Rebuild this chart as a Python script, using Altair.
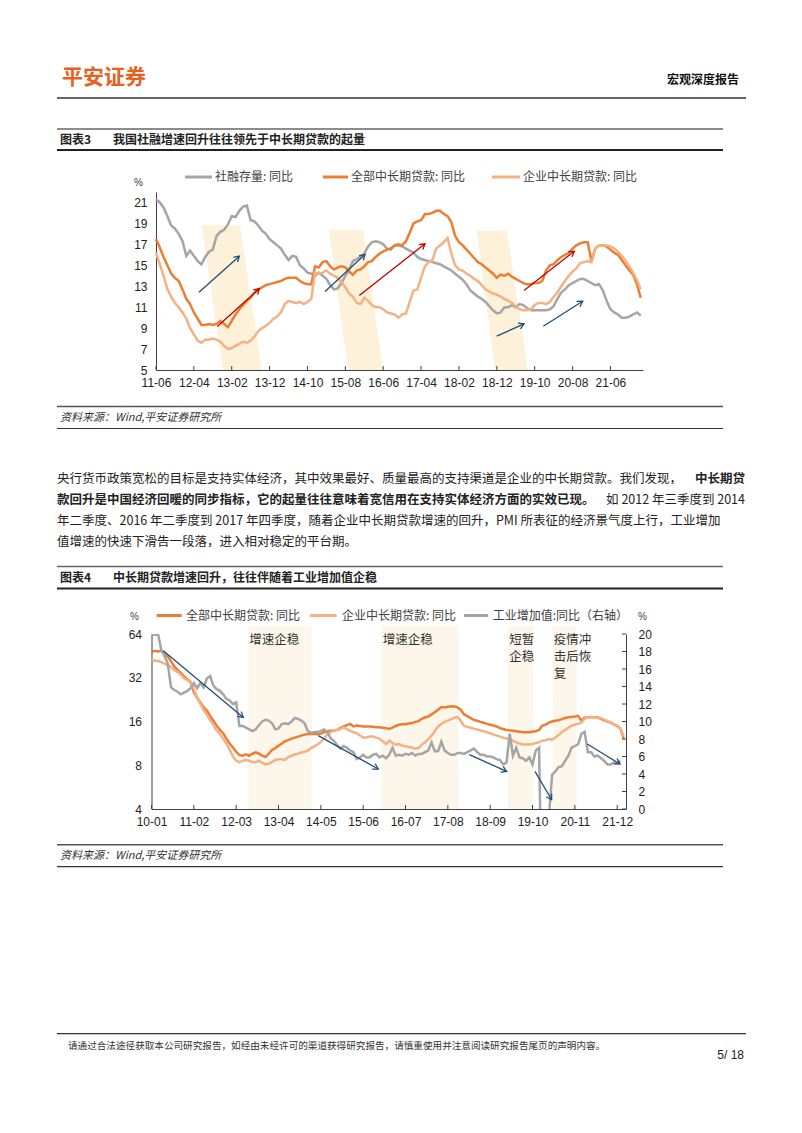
import json
import math
import altair as alt
import pandas as pd

CJK = "Noto Sans CJK SC"
LAT = "Liberation Sans"
ORANGE = "#ED7D31"
LIGHT = "#F4B183"
GREY = "#A5A5A5"
NAVY = "#1F4E79"
RED = "#C00000"
BAND3 = "#FDF1DA"
BAND4 = "#FDF6EA"
LOGO = "#E7601E"
AXIS = "#404040"
TXT = "#222222"

# ---------------- Chart 3 data (monthly from 2011-06) ----------------
c3_labels = ["11-06", "12-04", "13-02", "13-12", "14-10", "15-08", "16-06",
             "17-04", "18-02", "18-12", "19-10", "20-08", "21-06"]
c3_grey = [21.3, 21.0, 20.5, 19.7, 18.8, 18.5, 18.0, 17.3, 15.9, 16.4,
           15.9, 15.4, 15.1, 15.8, 16.3, 16.5, 17.8, 18.2, 18.4, 18.9,
           19.7, 19.6, 20.2, 20.6, 20.7, 19.3, 19.2, 18.8, 18.3, 18.0,
           17.5, 17.2, 16.9, 16.6, 16.0, 15.5, 15.9, 15.8, 15.0, 14.7,
           14.3, 14.2, 14.0, 14.3, 14.0, 13.7, 13.1, 12.7, 12.8, 13.3,
           14.0, 14.6, 15.4, 15.6, 15.8, 16.1, 16.8, 17.2, 17.3, 17.2,
           17.0, 16.6, 16.5, 16.9, 16.9, 16.8, 16.6, 16.4, 16.2, 15.8,
           15.6, 15.5, 15.4, 15.3, 15.2, 15.1, 14.9, 14.7, 14.5, 14.2,
           13.9, 13.6, 13.2, 12.6, 12.3, 12.0, 11.8, 11.5, 11.1, 10.7,
           10.4, 10.5, 11.0, 11.0, 11.2, 11.0, 11.3, 11.2, 10.9, 10.7,
           10.7, 10.7, 10.7, 10.7, 10.8, 11.1, 11.8, 12.4, 12.7, 13.1,
           13.3, 13.5, 13.7, 13.7, 13.5, 13.3, 13.1, 13.2, 12.6, 11.6,
           10.8, 10.5, 10.3, 10.0, 10.0, 10.1, 10.3, 10.5, 10.2]
c3_orange = [17.5, 16.7, 15.8, 15.0, 14.2, 13.8, 13.5, 12.7, 11.8, 11.3,
             10.5, 9.9, 9.3, 9.3, 9.4, 9.3, 9.4, 9.7, 9.4, 9.1,
             9.7, 10.3, 10.8, 11.2, 11.6, 11.9, 12.4, 12.7, 12.9, 13.1,
             13.2, 13.3, 13.4, 13.5, 13.7, 13.8, 13.8, 13.8, 13.5, 13.3,
             13.2, 13.2, 14.9, 14.8, 15.3, 15.4, 14.9, 14.6, 14.8, 14.9,
             14.8, 14.4, 14.1, 14.5, 14.6, 14.9, 15.3, 15.4, 15.8, 16.1,
             16.3, 16.5, 16.6, 16.9, 17.0, 16.9, 17.3, 18.1, 19.0, 19.2,
             19.3, 19.9, 19.9, 20.0, 20.2, 20.2, 19.9, 19.7, 19.1, 17.8,
             17.2, 16.9, 16.5, 16.1, 15.7, 15.3, 15.1, 14.8, 14.5, 14.2,
             13.8, 14.1, 14.0, 14.2, 13.9, 13.7, 13.5, 13.3, 13.2, 13.2,
             13.3, 13.3, 13.5, 14.5, 15.0, 15.1, 15.5, 15.8, 16.0, 16.2,
             16.6, 16.9, 17.1, 17.2, 17.2, 15.4, 16.6, 16.9, 16.9, 16.8,
             16.5, 16.2, 16.0, 15.5, 15.0, 14.5, 14.1, 13.2, 11.9]
c3_light = [16.2, 15.1, 14.0, 12.7, 12.0, 11.4, 11.0, 10.5, 9.9, 9.0,
            8.4, 7.8, 7.6, 7.9, 7.9, 8.0, 7.9, 7.7, 7.3, 7.0,
            7.1, 7.3, 7.5, 7.7, 7.6, 7.8, 8.2, 8.7, 9.0, 9.2,
            9.5, 9.9, 10.1, 10.5, 11.3, 11.6, 11.5, 11.4, 11.5, 11.3,
            11.5, 11.8, 14.3, 14.2, 14.3, 14.5, 14.2, 14.0, 13.8, 13.4,
            12.9, 12.3, 12.0, 11.4, 11.3, 11.9, 11.6, 11.2, 11.0, 11.0,
            10.8, 10.5, 10.4, 10.3, 10.0, 10.3, 10.4, 11.5, 12.6, 12.7,
            13.8, 14.9, 15.3, 15.5, 16.6, 16.9, 17.2, 17.6, 16.1, 15.0,
            14.6, 14.5, 14.2, 14.0, 13.7, 13.5, 13.1, 12.7, 12.5, 12.3,
            12.2, 12.0, 11.8, 11.6, 11.4, 11.1, 10.8, 10.7, 10.7, 10.8,
            11.2, 11.4, 11.4, 11.3, 11.5, 12.0, 12.4, 13.0, 13.5, 14.0,
            14.4, 14.7, 15.2, 15.3, 15.4, 15.3, 16.6, 16.9, 16.9, 16.9,
            16.8, 16.6, 16.3, 15.9, 15.4, 14.9, 14.3, 13.6, 12.7]
c3_band_top = [18.8, 18.4, 18.3]
c3_band_tl = [12.07, 45.68, 84.69]
c3_band_tr = [22.18, 54.66, 92.61]
c3_band_bl = [17.69, 50.70, 89.52]
c3_band_br = [27.91, 59.94, 98.23]
c3_ax1 = [11.35, 16.19, 44.63, 53.68, 89.97, 102.27, 97.18]
c3_ay1 = [12.43, 9.15, 12.50, 12.12, 8.23, 9.18, 12.59]
c3_ax2 = [22.00, 27.28, 55.19, 71.03, 97.18, 112.67, 110.46]
c3_ay2 = [15.87, 12.76, 16.03, 17.05, 9.41, 11.57, 16.35]
c3_akind = ["b", "r", "b", "r", "b", "b", "r"]

# ---------------- Chart 4 data (monthly from 2010-01) ----------------
c4_labels = ["10-01", "11-02", "12-03", "13-04", "14-05", "15-06",
             "16-07", "17-08", "18-09", "19-10", "20-11", "21-12"]
c4_orange = [47.8, 49.1, 48.6, 49.1, 47.0, 44.7, 41.5, 38.3, 36.2, 34.5,
             32.7, 31.3, 29.9, 25.4, 23.4, 21.6, 20.0, 19.0, 17.5, 16.2,
             15.0, 14.0, 13.3, 12.2, 11.3, 10.6, 9.9, 9.4, 9.3, 9.5,
             9.3, 9.6, 9.8, 9.6, 9.3, 9.1, 9.6, 10.2, 10.5, 10.9,
             11.3, 11.7, 11.9, 12.2, 12.4, 12.6, 12.8, 13.0, 13.1, 13.1,
             13.2, 13.1, 13.2, 13.5, 13.7, 13.8, 13.8, 14.0, 14.4, 14.8,
             15.1, 15.4, 14.8, 15.0, 14.9, 14.8, 14.8, 14.8, 14.7, 14.6,
             14.6, 14.5, 14.4, 14.2, 14.5, 14.9, 15.2, 15.3, 15.3, 15.5,
             15.6, 15.9, 16.1, 16.7, 17.1, 17.3, 17.9, 18.5, 19.3, 20.1,
             20.0, 20.2, 20.4, 20.3, 20.0, 19.2, 17.9, 17.4, 16.9, 16.4,
             16.2, 15.9, 15.7, 15.4, 15.2, 15.0, 14.8, 14.4, 14.2, 14.0,
             13.9, 13.8, 13.7, 13.6, 13.5, 13.5, 13.5, 13.6, 13.7, 14.0,
             15.0, 15.2, 15.7, 16.0, 16.2, 16.3, 16.6, 16.9, 17.1, 17.2,
             17.3, 17.5, 16.2, 17.0, 17.1, 17.2, 17.1, 17.1, 16.7, 16.3,
             16.0, 15.7, 15.3, 14.9, 14.3, 12.2]
c4_light = [42.9, 41.9, 41.9, 41.0, 40.0, 39.0, 37.9, 36.2, 35.0, 33.5,
            31.7, 30.9, 29.6, 26.8, 23.4, 21.1, 19.2, 17.8, 16.4, 15.2,
            13.8, 13.1, 12.2, 11.3, 10.2, 9.2, 8.6, 8.4, 8.6, 8.7,
            8.6, 8.4, 8.4, 8.6, 8.3, 8.1, 8.2, 8.4, 8.7, 8.8,
            8.8, 8.7, 9.1, 9.3, 9.5, 9.6, 9.8, 9.9, 10.1, 10.5,
            10.8, 11.1, 11.6, 12.2, 13.1, 13.5, 13.8, 14.0, 14.2, 14.6,
            14.2, 13.8, 13.5, 13.3, 12.8, 12.4, 12.4, 12.6, 12.6, 12.4,
            12.2, 11.7, 11.2, 11.8, 11.4, 11.1, 11.2, 10.9, 10.8, 10.7,
            10.6, 10.4, 10.5, 11.1, 11.5, 12.1, 12.8, 13.7, 14.8, 15.4,
            15.9, 16.2, 16.6, 17.0, 17.2, 16.1, 14.9, 14.7, 14.5, 14.3,
            14.1, 13.9, 13.7, 13.5, 13.3, 13.0, 12.8, 12.6, 12.4, 12.2,
            12.0, 11.8, 11.5, 11.3, 11.1, 11.1, 11.1, 11.2, 11.4, 11.5,
            11.8, 11.9, 12.1, 12.0, 12.4, 12.9, 13.5, 14.0, 14.5, 15.0,
            15.2, 15.4, 15.7, 16.7, 17.1, 17.1, 17.1, 17.0, 16.9, 16.5,
            16.1, 15.7, 15.3, 14.9, 14.3, 12.6]
c4_grey = [20.0, 19.9, 20.0, 18.2, 17.5, 16.6, 13.9, 13.6, 13.4, 13.1,
           13.3, 13.5, 13.8, 14.4, 13.8, 14.4, 13.9, 14.9, 15.2, 14.1,
           13.7, 13.5, 13.1, 12.6, 12.4, 12.0, 12.2, 9.5, 9.5, 9.3,
           9.1, 8.9, 9.1, 9.6, 10.0, 10.2, 10.1, 9.8, 9.1, 9.2,
           9.7, 9.8, 9.7, 10.0, 10.4, 10.3, 10.1, 9.8, 8.9, 8.7,
           8.8, 8.8, 8.9, 9.1, 8.8, 8.1, 7.8, 7.3, 6.9, 7.2,
           7.0, 6.7, 6.5, 5.7, 5.9, 6.2, 5.9, 5.9, 6.2, 6.3,
           5.9, 6.1, 5.8, 6.2, 7.0, 6.1, 6.2, 6.1, 6.3, 6.2,
           6.4, 6.1, 6.3, 6.3, 6.5, 6.7, 7.6, 6.6, 6.6, 7.7,
           6.7, 6.4, 6.2, 6.2, 6.4, 6.4, 6.3, 6.5, 6.7, 6.9,
           6.5, 6.2, 6.2, 6.0, 6.0, 5.9, 5.7, 5.6, 5.1, 5.3,
           8.6, 6.1, 7.0, 5.9, 5.8, 5.5, 5.9, 5.1, 6.7, 7.0,
           -13.5, -13.5, -1.1, 3.9, 4.3, 4.8, 4.9, 5.5, 6.1, 7.0,
           7.2, 7.4, 8.6, 8.8, 6.5, 6.5, 6.0, 6.1, 5.8, 5.5,
           5.1, 5.1, 5.3, 5.2, 5.5]
c4_band_start = [29.72, 70.68, 109.55, 123.18]
c4_band_end = [49.19, 94.20, 117.22, 130.55]
c4_band_text = ["增速企稳", "增速企稳", "短暂\n企稳", "疫情冲\n击后恢\n复"]
c4_ax1 = [3.62, 51.21, 97.57, 117.75, 133.80]
c4_ay1 = [18.09, 8.38, 6.21, 4.30, 7.43]
c4_ax2 = [28.19, 69.63, 109.06, 122.87, 143.84]
c4_ay2 = [10.47, 4.57, 4.30, 1.06, 5.14]
c4_akind = ["b", "b", "b", "b", "b"]

# ---------------- texts ----------------
t_logo = "平安证券"
t_header = "宏观深度报告"
t_fig3 = "图表3"
t_title3 = "我国社融增速回升往往领先于中长期贷款的起量"
t_leg3 = ["社融存量: 同比", "全部中长期贷款: 同比", "企业中长期贷款: 同比"]
t_source = "资料来源：Wind,平安证券研究所"
p1a = "央行货币政策宽松的目标是支持实体经济，其中效果最好、质量最高的支持渠道是企业的中长期贷款。我们发现，"
p1b = "中长期贷"
p2a = "款回升是中国经济回暖的同步指标，它的起量往往意味着宽信用在支持实体经济方面的实效已现。"
p2b = "如 2012 年三季度到 2014"
p3 = "年二季度、2016 年二季度到 2017 年四季度，随着企业中长期贷款增速的回升，PMI 所表征的经济景气度上行，工业增加"
p4 = "值增速的快速下滑告一段落，进入相对稳定的平台期。"
t_fig4 = "图表4"
t_title4 = "中长期贷款增速回升，往往伴随着工业增加值企稳"
t_leg4 = ["全部中长期贷款: 同比", "企业中长期贷款: 同比", "工业增加值:同比（右轴）"]
t_footer = "请通过合法途径获取本公司研究报告，如经由未经许可的渠道获得研究报告，请慎重使用并注意阅读研究报告尾页的声明内容。"
t_page = "5/ 18"

ONE = pd.DataFrame({"k": [0]})
PAGE_W = 786


def text(s, x, y, size=12, bold=False, color=TXT, align="left", font=CJK, italic=False):
    kw = dict(text=s, fontSize=size, font=font, color=color, align=align, baseline="middle")
    if bold:
        kw["fontWeight"] = "bold"
    if italic:
        kw["fontStyle"] = "italic"
    return alt.Chart(ONE).mark_text(**kw).encode(x=alt.value(x), y=alt.value(y))


def hline(x1, x2, y, color="#333333", w=1.0):
    return alt.Chart(ONE).mark_rule(color=color, strokeWidth=w).encode(
        x=alt.value(x1), x2=alt.value(x2), y=alt.value(y))


def arrow_frames(x1, y1, x2, y2, kinds, pxm, pxv):
    lines = pd.DataFrame({"x1": x1, "y1": y1, "x2": x2, "y2": y2, "k": kinds})
    angs = []
    for a, b, c, d in zip(x1, y1, x2, y2):
        dx = (c - a) * pxm
        dy = -(d - b) * pxv
        angs.append(math.degrees(math.atan2(dx, -dy)) % 360)
    heads = pd.DataFrame({"x": x2, "y": y2, "ang": angs, "k": kinds})
    return lines, heads


HEAD = "M-0.6,1L0,0L0.6,1"
KCOL = alt.Scale(domain=["b", "r"], range=[NAVY, RED])

# ---------------- Row A: header + chart-3 title + legend ----------------
rowA = alt.layer(
    text(t_logo, 54, 70, 21, bold=True, color=LOGO),
    text(t_header, 731, 72, 12, bold=True, color="#111111", align="right"),
    hline(49, 738, 90, "#333333", 1.5),
    hline(49, 715, 121, "#666666", 1.5),
    hline(49, 715, 142, "#222222", 2),
    text(t_fig3, 52, 131.5, 12, bold=True),
    text(t_title3, 105, 131.5, 12, bold=True),
    hline(177, 204, 169, GREY, 3),
    text(t_leg3[0], 207, 169, 12, color="#404040"),
    hline(315, 340, 169, ORANGE, 3),
    text(t_leg3[1], 343, 169, 12, color="#404040"),
    hline(484, 512, 169, LIGHT, 3),
    text(t_leg3[2], 515, 169, 12, color="#404040"),
    text("%", 126, 175, 10, color="#404040", font=LAT),
).properties(width=PAGE_W, height=183.5)

# ---------------- Row B: chart 3 (plot x 148..635 inside a full-width view) ----------------
L3, W3, H3 = 148, 487, 178
X3 = alt.Scale(domain=[0, 128.6], nice=False, zero=False, range=[L3, L3 + W3])
Y3 = alt.Scale(domain=[5, 22], nice=False, zero=False)
xaxis3 = alt.Axis(values=[i * 10 for i in range(len(c3_labels))],
                  labelExpr=json.dumps(c3_labels) + "[round(datum.value / 10)]",
                  ticks=False, labelPadding=7, domainColor=AXIS, domainWidth=1,
                  labelFont=LAT, labelFontSize=12, labelColor=TXT,
                  labelFlush=False, labelOverlap=False, grid=False, title=None)
yaxis3 = alt.Axis(values=list(range(5, 22, 2)), ticks=False, labelPadding=9,
                  domainColor=AXIS, domainWidth=1, labelFont=LAT, labelFontSize=12,
                  labelColor=TXT, grid=False, title=None, orient="left", offset=-L3)


def x3(f):
    return alt.X(f, scale=X3, axis=xaxis3)


def y3(f):
    return alt.Y(f, scale=Y3, axis=yaxis3)


df3 = pd.DataFrame({"m": list(range(len(c3_grey))), "grey": c3_grey,
                    "orange": c3_orange, "light": c3_light})
b_rows = []
for i in range(len(c3_band_top)):
    b_rows.append({"b": i, "v": c3_band_top[i], "xl": c3_band_tl[i], "xr": c3_band_tr[i]})
    b_rows.append({"b": i, "v": 5, "xl": c3_band_bl[i], "xr": c3_band_br[i]})
dfb3 = pd.DataFrame(b_rows)

bands3 = alt.Chart(dfb3).mark_area(orient="horizontal", color=BAND3).encode(
    y=y3("v:Q"),
    x=alt.X("xl:Q", scale=X3, axis=xaxis3, stack=None),
    x2="xr:Q",
    detail="b:N")
base3 = alt.Chart(df3)
grey3 = base3.mark_line(color=GREY, strokeWidth=2.5).encode(x=x3("m:Q"), y=y3("grey:Q"))
orange3 = base3.mark_line(color=ORANGE, strokeWidth=2.5).encode(x=x3("m:Q"), y=y3("orange:Q"))
light3 = base3.mark_line(color=LIGHT, strokeWidth=2.5).encode(x=x3("m:Q"), y=y3("light:Q"))

al3, ah3 = arrow_frames(c3_ax1, c3_ay1, c3_ax2, c3_ay2, c3_akind, W3 / 128.6, H3 / 17.0)
arr3 = alt.Chart(al3).mark_rule(strokeWidth=1.3).encode(
    x=x3("x1:Q"), x2="x2:Q", y=y3("y1:Q"), y2="y2:Q",
    color=alt.Color("k:N", scale=KCOL, legend=None))
head3 = alt.Chart(ah3).mark_point(shape=HEAD, filled=False, size=110, strokeWidth=1.3, opacity=1).encode(
    x=x3("x:Q"), y=y3("y:Q"),
    angle=alt.Angle("ang:Q", scale=None),
    color=alt.Color("k:N", scale=KCOL, legend=None))
ticks3 = alt.Chart(pd.DataFrame({"t": [i * 10 for i in range(len(c3_labels))]})).mark_rule(
    color=AXIS, strokeWidth=1).encode(
    x=x3("t:Q"), y=alt.value(H3 - 4), y2=alt.value(H3))

rowB = alt.layer(bands3, grey3, orange3, light3, arr3, head3, ticks3).properties(
    width=PAGE_W, height=H3)

# ---------------- Row C: source, paragraph, chart-4 title + legend ----------------
rowC = alt.layer(
    hline(49, 715, 36.5, "#555555", 1.5),
    text(t_source, 52, 47.5, 11, italic=True, color="#333333"),
    hline(49, 715, 58.5, "#333333", 1.2),
    text(p1a, 49, 108.5, 12.5),
    text(p1b, 737, 108.5, 12.5, bold=True, align="right"),
    text(p2a, 49, 129.5, 12.5, bold=True),
    text(p2b, 737, 129.5, 12.5, align="right"),
    text(p3, 49, 150.5, 12.5),
    text(p4, 49, 171.5, 12.5),
    hline(49, 715, 196.5, "#666666", 1.5),
    hline(49, 715, 218.5, "#222222", 2),
    text(t_fig4, 52, 207.5, 12, bold=True),
    text(t_title4, 105, 207.5, 12, bold=True),
    hline(148.7, 173.7, 245.5, ORANGE, 3),
    text(t_leg4[0], 178, 245.5, 12, color="#404040"),
    hline(302, 328.7, 245.5, LIGHT, 3),
    text(t_leg4[1], 334, 245.5, 12, color="#404040"),
    hline(456, 480.3, 245.5, GREY, 3),
    text(t_leg4[2], 484.7, 245.5, 12, color="#404040"),
    text("%", 122, 246.5, 10, color="#404040", font=LAT),
    text("%", 630, 246.5, 10, color="#404040", font=LAT),
).properties(width=PAGE_W, height=263.8)

# ---------------- Row D: chart 4 (plot x 143.5..618 inside a full-width view) ----------------
L4, W4, H4 = 143.5, 474.5, 175
R4 = L4 + W4
X4 = alt.Scale(domain=[0, 145.7], nice=False, zero=False, range=[L4, R4])
YL = alt.Scale(type="log", base=2, domain=[4, 64], nice=False)
YR = alt.Scale(domain=[0, 20], nice=False, zero=False)
xaxis4 = alt.Axis(values=[i * 13 for i in range(len(c4_labels))],
                  labelExpr=json.dumps(c4_labels) + "[round(datum.value / 13)]",
                  ticks=False, labelPadding=7, domainColor=AXIS, domainWidth=1,
                  labelFont=LAT, labelFontSize=12, labelColor=TXT,
                  labelFlush=False, labelOverlap=False, grid=False, title=None)
yaxisL = alt.Axis(values=[4, 8, 16, 32, 64], ticks=False, labelPadding=10,
                  domainColor=AXIS, domainWidth=1, labelFont=LAT, labelFontSize=12,
                  labelColor=TXT, grid=False, title=None, orient="left", offset=-L4)
yaxisR = alt.Axis(values=list(range(0, 21, 2)), ticks=False, labelPadding=12,
                  domainColor=AXIS, domainWidth=1, labelFont=LAT, labelFontSize=12,
                  labelColor=TXT, grid=False, title=None, orient="right",
                  offset=-(PAGE_W - R4))


def x4(f):
    return alt.X(f, scale=X4, axis=xaxis4)


def yl(f):
    return alt.Y(f, scale=YL, axis=yaxisL)


def yr(f):
    return alt.Y(f, scale=YR, axis=yaxisR)


df4 = pd.DataFrame({"m": list(range(len(c4_orange))), "orange": c4_orange, "light": c4_light})
df4g = pd.DataFrame({"m": list(range(len(c4_grey))), "grey": c4_grey})
dfb4 = pd.DataFrame({"s": c4_band_start, "e": c4_band_end, "lab": c4_band_text})

bands4 = alt.Chart(dfb4).mark_rect(color=BAND4).encode(
    x=x4("s:Q"), x2="e:Q", y=alt.value(-8), y2=alt.value(H4))
blabels4 = alt.Chart(dfb4).mark_text(align="left", baseline="top", lineBreak="\n",
                                     lineHeight=17, fontSize=12.5, font=CJK,
                                     color="#333333", dx=1).encode(
    x=x4("s:Q"), y=alt.value(0), text="lab:N")
base4 = alt.Chart(df4)
orange4 = base4.mark_line(color=ORANGE, strokeWidth=2.5).encode(x=x4("m:Q"), y=yl("orange:Q"))
light4 = base4.mark_line(color=LIGHT, strokeWidth=2.5).encode(x=x4("m:Q"), y=yl("light:Q"))
xticks4 = alt.Chart(pd.DataFrame({"t": [i * 13 for i in range(len(c4_labels))]})).mark_rule(
    color=AXIS, strokeWidth=1).encode(
    x=x4("t:Q"), y=alt.value(H4 - 4), y2=alt.value(H4))
left4 = alt.layer(bands4, blabels4, orange4, light4, xticks4)

grey4 = alt.Chart(df4g).mark_line(color=GREY, strokeWidth=2.5, clip=True).encode(
    x=x4("m:Q"), y=yr("grey:Q"))
al4, ah4 = arrow_frames(c4_ax1, c4_ay1, c4_ax2, c4_ay2, c4_akind, W4 / 145.7, H4 / 20.0)
arr4 = alt.Chart(al4).mark_rule(strokeWidth=1.3).encode(
    x=x4("x1:Q"), x2="x2:Q", y=yr("y1:Q"), y2="y2:Q",
    color=alt.Color("k:N", scale=KCOL, legend=None))
head4 = alt.Chart(ah4).mark_point(shape=HEAD, filled=False, size=110, strokeWidth=1.3, opacity=1).encode(
    x=x4("x:Q"), y=yr("y:Q"),
    angle=alt.Angle("ang:Q", scale=None),
    color=alt.Color("k:N", scale=KCOL, legend=None))
rticks4 = alt.Chart(pd.DataFrame({"v": list(range(0, 21, 2))})).mark_rule(
    color=AXIS, strokeWidth=1).encode(
    y=yr("v:Q"), x=alt.value(R4 - 4), x2=alt.value(R4))
right4 = alt.layer(grey4, arr4, head4, rticks4)

rowD = alt.layer(left4, right4).resolve_scale(y="independent").properties(width=PAGE_W, height=H4)

# ---------------- Row E: source + footer ----------------
rowE = alt.layer(
    hline(49, 715, 35.7, "#555555", 1.5),
    text(t_source, 52, 46.7, 11, italic=True, color="#333333"),
    hline(49, 715, 57.7, "#333333", 1.2),
    hline(49, 738, 224.7, "#333333", 1.2),
    text(t_footer, 60, 236.7, 9.6, color="#333333"),
    text(t_page, 736, 245.7, 12, font=LAT, align="right"),
).properties(width=PAGE_W, height=316.7)

chart = alt.vconcat(rowA, rowB, rowC, rowD, rowE, spacing=0, bounds="flush").properties(
    padding=0, background="white").configure_view(stroke=None)

chart.save("out.html", embed_options={"renderer": "svg", "actions": False})
